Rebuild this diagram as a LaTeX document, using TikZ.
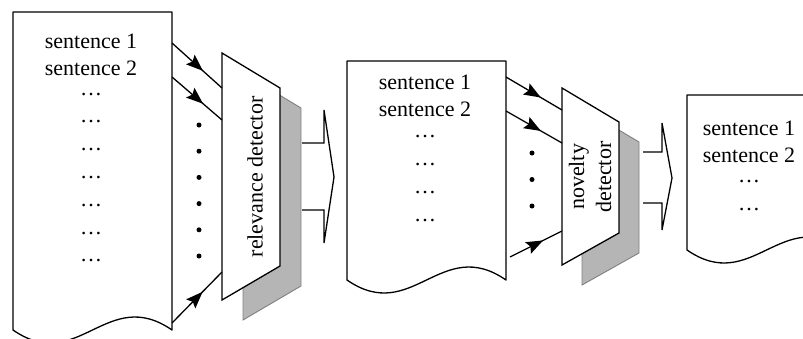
\documentclass[tikz,border=0pt]{standalone}
\usepackage{fontspec}
\setmainfont{Liberation Serif}
\usetikzlibrary{decorations.markings}

\tikzset{
  docline/.style={line width=1.3pt, line join=round},
  txt/.style={font=\fontsize{22}{27}\selectfont, inner sep=0pt},
  midarrow/.style={line width=1.3pt,
    decoration={markings, mark=at position 0.5 with {\fill (8,0) -- (-9,6.5) -- (-6,0) -- (-9,-6.5) -- cycle;}},
    postaction={decorate}},
  detector/.style={line width=1.3pt, fill=white, line join=miter},
  shadowbox/.style={draw=gray, fill=gray!58, line width=0.9pt},
  bigarrow/.style={line width=1.3pt, line join=miter},
  dot/.style={circle, fill, inner sep=0pt, minimum size=5pt}
}

% page with a wavy bottom: x, top, bottom, width
\newcommand{\docpage}[4]{%
  \draw[docline] (#1,-#2) -- (#1,-#3) .. controls +(65,-45) and +(-65,45) .. (#1+#4,-#3) -- (#1+#4,-#2) -- cycle;
}

\begin{document}
\begin{tikzpicture}[x=1pt,y=1pt]
\useasboundingbox (0,0) rectangle (803,-338);
\clip (0,0) rectangle (803,-338);

% first page
\docpage{13}{12}{330}{159}
\node[txt, anchor=base] (s11) at (91,-48) {sentence 1};
\node[txt, anchor=base] (s12) at (91,-75) {sentence 2};
\foreach \i in {0,...,6}{%
    \node[txt, anchor=base] (e1\i) at (91,{-95-27.8*\i}) {…};
}

% relevance detector
\draw[shadowbox] (243,-73) -- (301,-108) -- (301,-286) -- (243,-320) -- cycle;
\draw[detector] (222,-53) -- (280,-88) -- (280,-266) -- (222,-300) -- cycle;
\node[txt, rotate=90] (rel) at (255,-177) {relevance detector};

\coordinate (d1a) at (172,-43);
\coordinate (d1b) at (172,-77);
\coordinate (d1c) at (172,-323);
\coordinate (t1a) at (222,-88);
\coordinate (t1b) at (222,-120);
\coordinate (t1c) at (222,-272);
\draw[midarrow] (d1a) -- (t1a);
\draw[midarrow] (d1b) -- (t1b);
\draw[midarrow] (d1c) -- (t1c);
\foreach \i in {0,...,5}{%
    \node[dot] (r\i) at (199,{-125-26.2*\i}) {};
}

% hollow arrow
\draw[bigarrow] (302,-143) -- (324,-143) -- (324,-110) -- (334,-177) -- (324,-243) -- (324,-210) -- (302,-210);

% second page
\docpage{347}{61}{280}{159}
\node[txt, anchor=base] (s21) at (425,-89) {sentence 1};
\node[txt, anchor=base] (s22) at (425,-116) {sentence 2};
\foreach \i in {0,...,3}{%
    \node[txt, anchor=base] (e2\i) at (425,{-137-28.3*\i}) {…};
}

% novelty detector
\draw[shadowbox] (582,-108) -- (639,-142) -- (639,-253) -- (582,-285) -- cycle;
\draw[detector] (562,-88) -- (619,-122) -- (619,-233) -- (562,-265) -- cycle;
\node[txt, rotate=90, align=center] (nov) at (590,-177) {novelty\\detector};

\coordinate (d2a) at (506,-77);
\coordinate (d2b) at (506,-111);
\coordinate (d2c) at (510,-257);
\coordinate (t2a) at (562,-110);
\coordinate (t2b) at (562,-143);
\coordinate (t2c) at (562,-231);
\draw[midarrow] (d2a) -- (t2a);
\draw[midarrow] (d2b) -- (t2b);
\draw[midarrow] (d2c) -- (t2c);
\foreach \i in {0,...,2}{%
    \node[dot] (n\i) at (532,{-153-26.5*\i}) {};
}

% hollow arrow
\draw[bigarrow] (643,-152) -- (662,-152) -- (662,-123) -- (672,-178) -- (662,-230) -- (662,-203) -- (643,-203);

% third page
\docpage{687}{95}{250}{159}
\node[txt, anchor=base] (s31) at (749,-135) {sentence 1};
\node[txt, anchor=base] (s32) at (749,-162) {sentence 2};
\foreach \i in {0,...,1}{%
    \node[txt, anchor=base] (e3\i) at (749,{-182-28*\i}) {…};
}
\end{tikzpicture}
\end{document}
